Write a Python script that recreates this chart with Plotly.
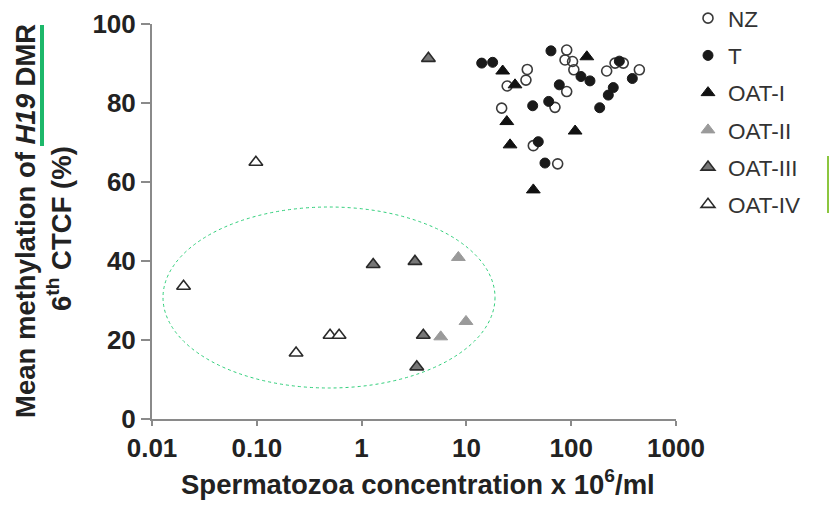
import plotly.graph_objects as go

# ---------------- data ----------------
NZ_X = [90.6, 87.3, 103, 106, 38.1, 37.0, 24.5, 21.7, 90.6, 70.0, 43.5, 74.3, 218, 262, 314, 447]
NZ_Y = [93.4, 90.9, 90.5, 88.4, 88.5, 85.8, 84.3, 78.7, 82.9, 78.9, 69.2, 64.6, 88.1, 90.1, 90.1, 88.4]
T_X = [14.0, 17.8, 64.1, 42.9, 61.0, 77.0, 124, 151, 288, 252, 226, 187, 383, 48.5, 56.2]
T_Y = [90.1, 90.3, 93.2, 79.3, 80.4, 84.6, 86.7, 85.6, 90.6, 83.9, 82.0, 78.8, 86.2, 70.2, 64.8]
OAT1_X = [22.2, 29.1, 24.3, 26.1, 43.5, 109, 141]
OAT1_Y = [88.1, 84.6, 75.3, 69.4, 58.0, 72.9, 91.7]
OAT2_X = [8.38, 9.91, 5.69]
OAT2_Y = [40.9, 24.7, 20.8]
OAT3_X = [1.29, 3.23, 3.88, 3.36, 4.34]
OAT3_Y = [39.1, 39.9, 21.2, 13.2, 91.3]
OAT4_X = [0.098, 0.02, 0.237, 0.50, 0.61]
OAT4_Y = [65.0, 33.6, 16.7, 21.2, 21.2]

X_TICKVALS = [0.01, 0.1, 1, 10, 100, 1000]
X_TICKTEXT = ["0.01", "0.10", "1", "10", "100", "1000"]
Y_TICKVALS = [0, 20, 40, 60, 80, 100]

# ---------------- layout geometry ----------------
W, H = 830, 509
ML, MR, MT, MB = 152, 154, 24, 90
PW = W - ML - MR
PH = H - MT - MB

def pxx(px):
    return (px - ML) / PW

def pxy(py):
    return (H - MB - py) / PH

FONT = "Liberation Sans, Arial, sans-serif"
TXT = "#222222"
AX = "#8a8a8a"

fig = go.Figure()

def add(name, xs, ys, symbol, size, fill, line_color, line_w):
    fig.add_trace(go.Scatter(
        x=xs, y=ys, mode="markers", name=name, legendgroup=name,
        marker=dict(symbol=symbol, size=size, color=fill,
                    line=dict(color=line_color, width=line_w)),
    ))

add("NZ", NZ_X, NZ_Y, "circle", 10, "rgba(255,255,255,0)", "#3a3a3a", 1.6)
add("T", T_X, T_Y, "circle", 10, "#1a1a1a", "#1a1a1a", 1)
add("OAT-I", OAT1_X, OAT1_Y, "triangle-up", 12, "#111111", "#111111", 1)
add("OAT-II", OAT2_X, OAT2_Y, "triangle-up", 12, "#9a9a9a", "#9a9a9a", 1)
add("OAT-III", OAT3_X, OAT3_Y, "triangle-up", 12, "#777777", "#2a2a2a", 1.6)
add("OAT-IV", OAT4_X, OAT4_Y, "triangle-up", 12, "#ffffff", "#2a2a2a", 1.6)

fig.update_layout(
    width=W, height=H,
    margin=dict(l=ML, r=MR, t=MT, b=MB, autoexpand=False),
    paper_bgcolor="white", plot_bgcolor="white",
    font=dict(family=FONT, color=TXT),
    legend=dict(
        x=pxx(688), y=pxy(-3), xanchor="left", yanchor="top",
        font=dict(size=22.5, color="#333333", family=FONT),
        traceorder="grouped", tracegroupgap=5,
        bgcolor="rgba(0,0,0,0)",
    ),
    xaxis=dict(
        type="log", range=[-2, 3],
        tickvals=X_TICKVALS, ticktext=X_TICKTEXT,
        showline=True, linecolor=AX, linewidth=2,
        ticks="outside", ticklen=5, tickcolor=AX, tickwidth=2,
        showgrid=False, zeroline=False,
        tickfont=dict(size=26, family=FONT, color=TXT, weight="bold"),
    ),
    yaxis=dict(
        range=[0, 100], tickvals=Y_TICKVALS,
        showline=True, linecolor=AX, linewidth=2,
        ticks="outside", ticklen=9, tickcolor=AX, tickwidth=2,
        showgrid=False, zeroline=False,
        tickfont=dict(size=26, family=FONT, color=TXT, weight="bold"),
    ),
)

# axis titles
fig.add_annotation(
    xref="paper", yref="paper", x=pxx(418), y=pxy(482),
    xanchor="center", yanchor="middle", showarrow=False,
    text="Spermatozoa concentration x 10<sup>6</sup>/ml",
    font=dict(size=27.5, family=FONT, color=TXT, weight="bold"),
)
fig.add_annotation(
    xref="paper", yref="paper", x=pxx(25), y=pxy(221),
    xanchor="center", yanchor="middle", showarrow=False, textangle=-90,
    text="Mean methylation of <i>H19</i> DMR",
    font=dict(size=27.5, family=FONT, color=TXT, weight="bold"),
)
fig.add_annotation(
    xref="paper", yref="paper", x=pxx(59), y=pxy(229),
    xanchor="center", yanchor="middle", showarrow=False, textangle=-90,
    text="6<sup>th</sup> CTCF (%)",
    font=dict(size=27.5, family=FONT, color=TXT, weight="bold"),
)

# dotted green ellipse around the OAT-II/III/IV group
ELL_LEFT, ELL_RIGHT, ELL_TOP, ELL_BOTTOM = 163, 495, 207, 388
fig.add_shape(
    type="circle", xref="paper", yref="paper",
    x0=pxx(ELL_LEFT), x1=pxx(ELL_RIGHT), y0=pxy(ELL_BOTTOM), y1=pxy(ELL_TOP),
    line=dict(color="#2fcf7a", width=1, dash="dot"),
)
# green highlight bars
fig.add_shape(
    type="line", xref="paper", yref="paper",
    x0=pxx(42), x1=pxx(42), y0=pxy(25), y1=pxy(146),
    line=dict(color="#1db86a", width=4),
)
fig.add_shape(
    type="line", xref="paper", yref="paper",
    x0=pxx(828), x1=pxx(828), y0=pxy(156), y1=pxy(213),
    line=dict(color="#8cc63f", width=2),
)

fig.write_html("out.html")
